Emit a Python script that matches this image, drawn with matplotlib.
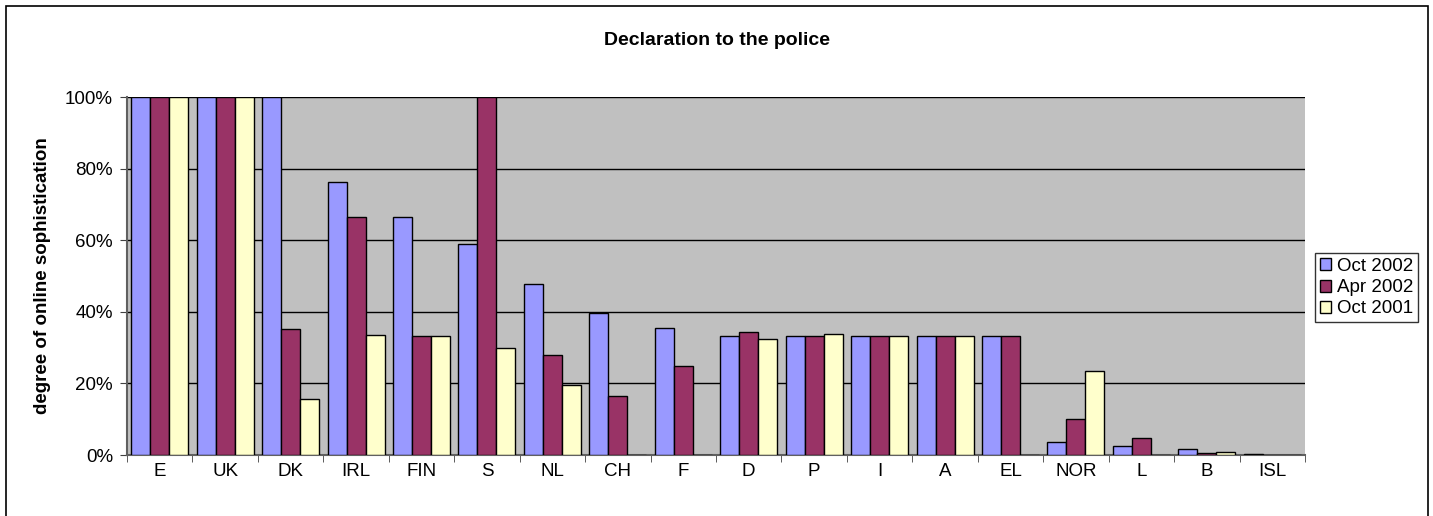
import numpy as np
import matplotlib.pyplot as plt
from matplotlib.patches import Rectangle

plt.rcParams['font.family'] = ['Liberation Sans', 'DejaVu Sans']

countries = ['E', 'UK', 'DK', 'IRL', 'FIN', 'S', 'NL', 'CH', 'F', 'D', 'P', 'I', 'A', 'EL', 'NOR', 'L', 'B', 'ISL']
oct_2002 = [100, 100, 100, 76.2, 66.6, 58.9, 47.8, 39.7, 35.5, 33.3, 33.3, 33.3, 33.3, 33.3, 3.5, 2.6, 1.8, 0.4]
apr_2002 = [100, 100, 35.3, 66.6, 33.3, 100, 28.0, 16.5, 24.9, 34.3, 33.3, 33.3, 33.3, 33.3, 10.0, 4.7, 0.5, 0]
oct_2001 = [100, 100, 15.6, 33.5, 33.3, 30.0, 19.6, 0, 0, 32.5, 33.8, 33.3, 33.3, 0, 23.5, 0, 0.9, 0]

series = [('Oct 2002', oct_2002, '#9999FF'),
          ('Apr 2002', apr_2002, '#993366'),
          ('Oct 2001', oct_2001, '#FFFFCC')]

fig = plt.figure(figsize=(14.33, 5.16), dpi=100)
ax = fig.add_axes([0.0886, 0.1182, 0.8221, 0.6938])
ax.set_facecolor('#C0C0C0')

x = np.arange(len(countries))
w = 0.29
for i, (name, vals, col) in enumerate(series):
    ax.bar(x + (i - 1) * w, vals, w, color=col, edgecolor='black', linewidth=1.0, label=name, zorder=3)

ax.set_xlim(-0.5, len(countries) - 0.5)
ax.set_ylim(0, 100)
ax.set_yticks(np.arange(0, 101, 20))
ax.set_yticklabels(['%d%%' % v for v in range(0, 101, 20)], fontsize=13.5)
ax.set_xticks(x)
ax.set_xticklabels(countries, fontsize=13.5)
ax.set_xticks(np.arange(-0.5, len(countries)), minor=True)
ax.tick_params(axis='x', which='major', length=0, pad=6)
ax.tick_params(axis='x', which='minor', length=5, color='#404040')
ax.tick_params(axis='y', length=5, color='#404040', pad=5)
ax.yaxis.grid(True, color='black', linewidth=1.0, zorder=1)
ax.set_axisbelow(True)
for s in ['top', 'right']:
    ax.spines[s].set_visible(False)
for s in ['left', 'bottom']:
    ax.spines[s].set_color('#606060')
    ax.spines[s].set_linewidth(1.5)

ax.set_ylabel('degree of online sophistication', fontsize=13.5, fontweight='bold', labelpad=10)
fig.text(0.5, 0.922, 'Declaration to the police', ha='center', va='center', fontsize=14, fontweight='bold')

leg = fig.legend(loc='lower left', bbox_to_anchor=(0.918, 0.376), fontsize=13.5, frameon=True,
                 fancybox=False, edgecolor='black', handlelength=0.6, handleheight=0.6,
                 handletextpad=0.3, labelspacing=0.22, borderpad=0.25, borderaxespad=0)
leg.get_frame().set_linewidth(1.0)

fig.patches.append(Rectangle((0.0042, -0.01), 0.9923, 0.998, transform=fig.transFigure,
                             fill=False, edgecolor='black', linewidth=1.2))

fig.savefig('out.png', dpi=100)
